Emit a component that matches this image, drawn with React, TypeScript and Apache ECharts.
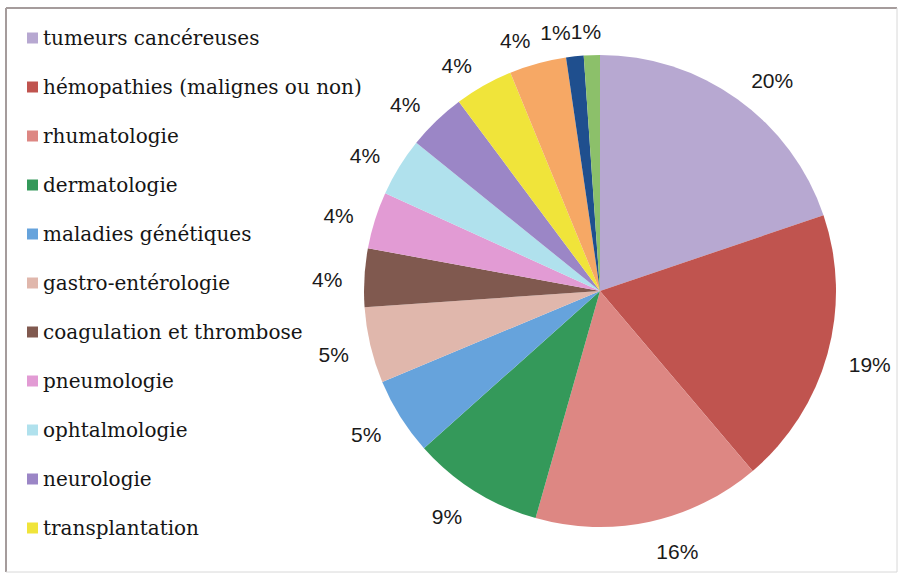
import React, { useEffect, useRef } from "react";
import * as echarts from "echarts";

const categories = [
  "tumeurs cancéreuses",
  "hémopathies (malignes ou non)",
  "rhumatologie",
  "dermatologie",
  "maladies génétiques",
  "gastro-entérologie",
  "coagulation et thrombose",
  "pneumologie",
  "ophtalmologie",
  "neurologie",
  "transplantation",
  "autres (1)",
  "autres (2)",
  "autres (3)",
];
const legendItems = categories.slice(0, 11);
const values = [19.8, 19.0, 15.6, 9.0, 5.3, 5.2, 4.0, 3.9, 4.0, 4.0, 4.0, 3.9, 1.2, 1.1];
const colors = [
  "#b7a8d1",
  "#c0544f",
  "#dd8783",
  "#34995a",
  "#66a3dc",
  "#e0b7ac",
  "#80594f",
  "#e29bd4",
  "#b0e1ed",
  "#9b86c6",
  "#f0e43a",
  "#f6a865",
  "#1f4f8e",
  "#8cc06a",
];

const LINE_LEN = 20;
const EDGE_GAP = 2;
const EXTRA_Y = 7;
const SHIFT_Y = 3;

export default function App() {
  const ref = useRef<HTMLDivElement>(null);
  useEffect(() => {
    if (!ref.current) return;
    const chart = echarts.init(ref.current, null, { renderer: "svg" });
    let placed: { l: number; r: number; y: number; h: number }[] = [];
    chart.setOption({
      animation: false,
      backgroundColor: "#ffffff",
      color: colors,
      legend: {
        orient: "vertical",
        left: 27,
        top: 28,
        padding: 0,
        data: legendItems,
        icon: "rect",
        itemWidth: 11,
        itemHeight: 11,
        itemGap: 29,
        itemTextGap: 6,
        textStyle: {
          fontFamily: "DejaVu Serif",
          fontSize: 20,
          color: "#151515",
          lineHeight: 20,
        },
      },
      graphic: [
        {
          type: "line",
          shape: { x1: 6, y1: 8, x2: 897, y2: 8 },
          style: { stroke: "#a59c9c", lineWidth: 2 },
        },
        {
          type: "line",
          shape: { x1: 6, y1: 8, x2: 6, y2: 572 },
          style: { stroke: "#a59c9c", lineWidth: 2 },
        },
        {
          type: "line",
          shape: { x1: 897, y1: 8, x2: 897, y2: 572 },
          style: { stroke: "#d8d8d8", lineWidth: 1 },
        },
        {
          type: "line",
          shape: { x1: 6, y1: 572, x2: 897, y2: 572 },
          style: { stroke: "#d8d8d8", lineWidth: 1 },
        },
      ],
      series: [
        {
          type: "pie",
          center: [600, 291],
          radius: 236,
          startAngle: 90,
          clockwise: true,
          avoidLabelOverlap: false,
          data: categories.map((name, i) => ({ name, value: values[i] })),
          itemStyle: { borderWidth: 0 },
          label: {
            show: true,
            position: "outside",
            formatter: (p: any) => Math.round(p.percent) + "%",
            fontFamily: "Liberation Sans",
            fontSize: 21,
            color: "#1a1a1a",
          },
          labelLine: {
            show: true,
            length: 10,
            length2: 0,
            lineStyle: { opacity: 0, width: 0 },
          },
          labelLayout: (params: any) => {
            const pts = params.labelLinePoints;
            if (!pts || pts.length < 2) return {};
            if (params.dataIndex === 0) placed = [];
            const p0 = pts[0];
            const p1 = pts[1];
            const dx = p1[0] - p0[0];
            const dy = p1[1] - p0[1];
            const len = Math.sqrt(dx * dx + dy * dy) || 1;
            const ux = dx / len;
            const uy = dy / len;
            const w = params.labelRect.width;
            const h = params.labelRect.height;
            const right = ux >= 0;
            const edge = p0[0] + ux * LINE_LEN + (right ? EDGE_GAP : -EDGE_GAP);
            let l = right ? edge : edge - w;
            const y = p0[1] + uy * (LINE_LEN + EXTRA_Y) + SHIFT_Y;
            for (const r of placed) {
              const overlapX = l < r.r && l + w > r.l;
              const overlapY = Math.abs(y - r.y) < (h + r.h) / 2 - 2;
              if (overlapX && overlapY) {
                l = l + w / 2 >= (r.l + r.r) / 2 ? r.r : r.l - w;
              }
            }
            placed.push({ l, r: l + w, y, h });
            return { x: l, y, align: "left", verticalAlign: "middle" };
          },
          emphasis: { disabled: true },
        },
      ],
    });
    return () => chart.dispose();
  }, []);
  return (
    <div
      ref={ref}
      style={{ position: "fixed", left: 0, top: 0, width: 898, height: 573 }}
    />
  );
}
